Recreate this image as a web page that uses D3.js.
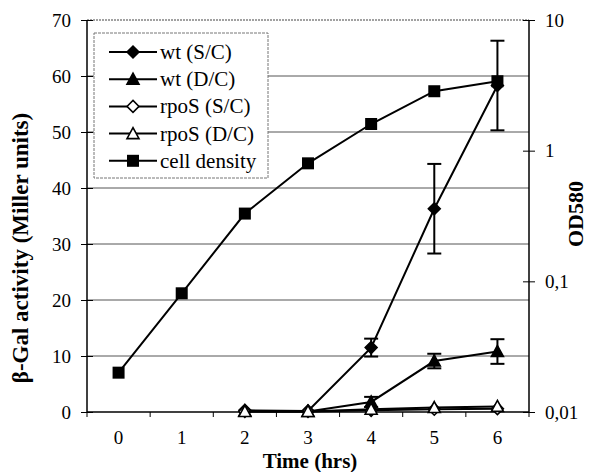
<!DOCTYPE html>
<html><head><meta charset="utf-8">
<script src="https://cdn.jsdelivr.net/npm/d3@7/dist/d3.min.js"></script>
<style>
html,body{margin:0;padding:0;background:#fff;}
svg text{font-family:"Liberation Serif","Tinos","Times New Roman","Nimbus Roman","DejaVu Serif",serif !important;fill:#000;}
</style></head>
<body><svg id="c" width="589" height="472"></svg>
<script>
const times = [0,1,2,3,4,5,6];
const xTickLabels = ["0","1","2","3","4","5","6"];
const leftTicks = [0,10,20,30,40,50,60,70];
const rightTicks = [0.01,0.1,1,10];
const rightTickLabels = ["0,01","0,1","1","10"];
const wtSC = [null,null,0.3,0.2,11.5,36.3,58.3];
const wtSCErr = [0,0,0,0,1.6,8,8];
const wtDC = [null,null,0.2,0.1,1.8,9.1,10.8];
const wtDCErr = [0,0,0,0,0.9,1.3,2.2];
const rpoSSC = [null,null,0.1,0.1,0.3,0.5,0.6];
const rpoSDC = [null,null,0.1,0.1,0.5,0.8,1.0];
const cellDensity = [0.020,0.081,0.33,0.80,1.6,2.85,3.4];
const legendLabels = ["wt (S/C)","wt (D/C)","rpoS (S/C)","rpoS (D/C)","cell density"];

const FONT = '"Liberation Serif","Tinos","Times New Roman","Nimbus Roman","DejaVu Serif",serif';
const svg = d3.select("#c");
const L=87, R=529, T=20, B=412;
const xb = d3.scaleBand().domain(times).range([L,R]).paddingInner(0).paddingOuter(0);
const x = t => xb(t) + xb.bandwidth()/2;
const y = d3.scaleLinear().domain([0,70]).range([B,T]);
const y2 = d3.scaleLog().domain([0.01,10]).range([B,T]);

svg.append("rect").attr("width",589).attr("height",472).attr("fill","#fff");

// gridlines
svg.append("g").selectAll("line").data(leftTicks.filter(v=>v>0&&v<70)).join("line")
  .attr("x1",L).attr("x2",R).attr("y1",d=>y(d)).attr("y2",d=>y(d))
  .attr("stroke","#555").attr("stroke-width",1);
svg.append("line").attr("x1",L).attr("x2",R).attr("y1",y(70)).attr("y2",y(70))
  .attr("stroke","#444").attr("stroke-width",1.2).attr("stroke-dasharray","2,1");

// left axis
const gl = svg.append("g").attr("transform",`translate(${L},0)`)
  .call(d3.axisLeft(y).tickValues(leftTicks).tickSize(6).tickPadding(10));
gl.attr("font-family",FONT);
gl.select(".domain").remove();
gl.selectAll(".tick line").attr("x2",-6).attr("x1",6).attr("stroke","#000");
gl.selectAll("text").attr("font-size",19);
svg.append("line").attr("x1",L).attr("x2",L).attr("y1",T).attr("y2",B).attr("stroke","#000").attr("stroke-width",1.5);

// right axis
const gr = svg.append("g").attr("transform",`translate(${R},0)`)
  .call(d3.axisRight(y2).tickValues(rightTicks).tickFormat((d,i)=>rightTickLabels[i]).tickSize(6).tickPadding(10));
gr.attr("font-family",FONT);
gr.select(".domain").remove();
gr.selectAll(".tick line").attr("x1",-6).attr("x2",6).attr("stroke","#000");
gr.selectAll("text").attr("font-size",19);
svg.append("line").attr("x1",R).attr("x2",R).attr("y1",T).attr("y2",B).attr("stroke","#000").attr("stroke-width",1.5);

// bottom axis
svg.append("line").attr("x1",L).attr("x2",R).attr("y1",B).attr("y2",B).attr("stroke","#000").attr("stroke-width",1.5);
const bounds = times.map(t=>xb(t)).concat([R]);
svg.append("g").selectAll("line").data(bounds).join("line")
  .attr("x1",d=>d).attr("x2",d=>d).attr("y1",B).attr("y2",B+5).attr("stroke","#000");
const gb = svg.append("g").attr("transform",`translate(0,${B})`)
  .call(d3.axisBottom(xb).tickFormat((d,i)=>xTickLabels[i]).tickSize(0).tickPadding(19));
gb.attr("font-family",FONT);
gb.select(".domain").remove();
gb.selectAll("text").attr("font-size",19);

// titles
svg.append("text").attr("transform","translate(28,248) rotate(-90)").attr("text-anchor","middle")
  .attr("font-family",FONT).attr("font-size",23).attr("font-weight","bold").text("β-Gal activity (Miller units)");
svg.append("text").attr("transform","translate(583,214) rotate(-90)").attr("text-anchor","middle")
  .attr("font-family",FONT).attr("font-size",22).attr("font-weight","bold").text("OD580");
svg.append("text").attr("x",310).attr("y",468).attr("text-anchor","middle")
  .attr("font-family",FONT).attr("font-size",21).attr("font-weight","bold").text("Time (hrs)");

// markers
function marker(g, type, cx, cy){
  if(type==="square"){
    g.append("rect").attr("x",cx-6).attr("y",cy-6).attr("width",12).attr("height",12).attr("fill","#000");
  } else if(type==="diamond"||type==="odiamond"){
    const s=6;
    g.append("path").attr("d",`M${cx},${cy-s}L${cx+s},${cy}L${cx},${cy+s}L${cx-s},${cy}Z`)
      .attr("fill",type==="diamond"?"#000":"#fff").attr("stroke","#000").attr("stroke-width",1.5);
  } else {
    const s=6;
    g.append("path").attr("d",`M${cx},${cy-s}L${cx+s},${cy+s-1}L${cx-s},${cy+s-1}Z`)
      .attr("fill",type==="triangle"?"#000":"#fff").attr("stroke","#000").attr("stroke-width",1.6);
  }
}

const line = d3.line().defined(d=>d.v!=null).x(d=>x(d.t)).y(d=>d.yy);
function series(vals, scale, type, errs){
  const g = svg.append("g");
  const pts = times.map((t,i)=>({t, v:vals[i], yy: vals[i]==null?0:scale(vals[i])}));
  g.append("path").attr("d",line(pts)).attr("fill","none").attr("stroke","#000").attr("stroke-width",2);
  if(errs){
    times.forEach((t,i)=>{
      if(vals[i]==null||!errs[i]) return;
      const y1=scale(vals[i]+errs[i]), y0=scale(vals[i]-errs[i]);
      g.append("line").attr("x1",x(t)).attr("x2",x(t)).attr("y1",y1).attr("y2",y0).attr("stroke","#000").attr("stroke-width",2);
      [y1,y0].forEach(yy=>g.append("line").attr("x1",x(t)-7).attr("x2",x(t)+7).attr("y1",yy).attr("y2",yy).attr("stroke","#000").attr("stroke-width",2));
    });
  }
  pts.filter(p=>p.v!=null).forEach(p=>marker(g,type,x(p.t),p.yy));
}
series(cellDensity, y2, "square");
series(wtSC, y, "diamond", wtSCErr);
series(wtDC, y, "triangle", wtDCErr);
series(rpoSSC, y, "odiamond");
series(rpoSDC, y, "otriangle");

// legend
const lg = svg.append("g").attr("font-family",FONT);
lg.append("rect").attr("x",94).attr("y",33).attr("width",174).attr("height",145)
  .attr("fill","#fff").attr("stroke","#777").attr("stroke-width",1).attr("stroke-dasharray","3,1");
const types = ["diamond","triangle","odiamond","otriangle","square"];
legendLabels.forEach((lab,i)=>{
  const yy = 52 + i*27.2;
  lg.append("line").attr("x1",109).attr("x2",157).attr("y1",yy).attr("y2",yy).attr("stroke","#000").attr("stroke-width",2);
  marker(lg, types[i], 133, yy);
  lg.append("text").attr("x",160).attr("y",yy+7).attr("font-size",21).text(lab);
});
</script></body></html>
